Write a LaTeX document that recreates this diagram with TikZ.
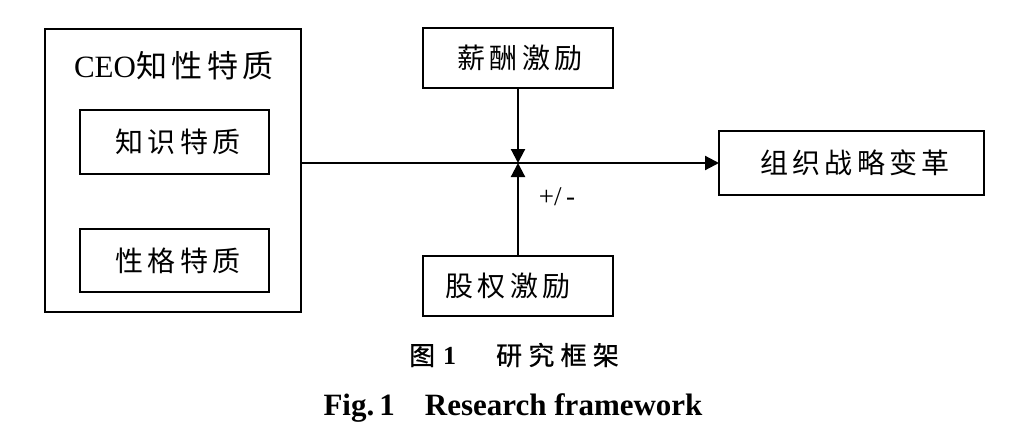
\documentclass[tikz,border=0pt]{standalone}
\usepackage{fontspec}
\setmainfont{Liberation Serif}
\newfontfamily\cjk[LetterSpace=15]{Noto Sans CJK SC}
\newfontfamily\cjkb[LetterSpace=24,FakeBold=0.8]{Noto Sans CJK SC}
\usetikzlibrary{arrows.meta}
\begin{document}
\begin{tikzpicture}[x=1pt,y=-1pt,
  frame/.style={line width=2.2pt},
  lbl/.style={font=\fontsize{28}{32}\selectfont\cjk},
  conn/.style={line width=2.2pt,-{Triangle[length=14pt,width=14pt]}}]
\useasboundingbox (0,0) rectangle (1012,444);
\fill[white] (0,0) rectangle (1012,444);
% outer box
\draw[frame] (45,29) rectangle (301,312);
\node[font=\fontsize{31}{34}\selectfont] (title) at (174,66) {CEO{\cjk 知性特质}};
\draw[frame] (80,110) rectangle (269,174);
\node[lbl] (k) at (178,142) {知识特质};
\draw[frame] (80,229) rectangle (269,292);
\node[lbl] (p) at (178,261) {性格特质};
\coordinate (outR) at (301,163);
% top box
\draw[frame] (423,28) rectangle (613,88);
\node[lbl] (xc) at (520,58) {薪酬激励};
\coordinate (topB) at (518,88);
% bottom box
\draw[frame] (423,256) rectangle (613,316);
\node[lbl] (gq) at (508,286) {股权激励};
\coordinate (botT) at (518,256);
% right box
\draw[frame] (719,131) rectangle (984,195);
\node[lbl] (zz) at (855,163) {组织战略变革};
\coordinate (rL) at (719,163);
\coordinate (mid) at (518,163);
\draw[conn] (outR) -- (rL);
\draw[conn] (topB) -- (mid);
\draw[conn] (botT) -- (mid);
\node[font=\fontsize{27}{30}\selectfont] (pm) at (557,197) {+/\,-};
% caption
\node[font=\fontsize{26}{30}\selectfont\bfseries] (c1) at (514,355) {{\mdseries\cjkb 图}\hspace{8pt}1\hspace{40pt}{\mdseries\cjkb 研究框架}};
\node[font=\fontsize{31}{34}\selectfont\bfseries] (c2) at (513,408) {Fig.\,1\hspace{30pt}Research framework};
\end{tikzpicture}
\end{document}
